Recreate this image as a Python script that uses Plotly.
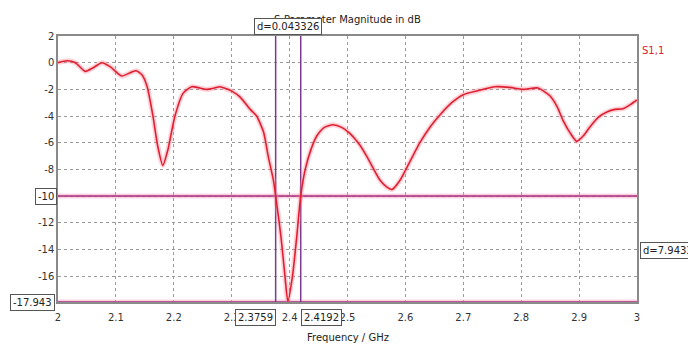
import plotly.graph_objects as go

# Data
freq = [2.0, 2.016, 2.03, 2.047, 2.06, 2.076, 2.09, 2.11, 2.125, 2.135, 2.145, 2.154,
        2.164, 2.172, 2.181, 2.19, 2.202, 2.216, 2.231, 2.245, 2.257, 2.27, 2.28, 2.29,
        2.301, 2.315, 2.332, 2.343, 2.355, 2.363, 2.372, 2.376, 2.385, 2.392, 2.397,
        2.405, 2.412, 2.4192, 2.427, 2.437, 2.447, 2.46, 2.475, 2.49, 2.504, 2.52, 2.533,
        2.556, 2.567, 2.577, 2.591, 2.608, 2.625, 2.643, 2.66, 2.68, 2.70, 2.725, 2.755,
        2.78, 2.803, 2.829, 2.85, 2.862, 2.872, 2.885, 2.896, 2.907, 2.919, 2.933, 2.948,
        2.962, 2.976, 2.99, 3.0]
s11 = [0.0, 0.15, 0.0, -0.65, -0.4, 0.0, -0.3, -1.0, -0.75, -0.6, -0.9, -1.8,
       -4.0, -6.2, -7.7, -6.5, -4.0, -2.3, -1.8, -1.9, -2.0, -1.9, -1.8, -1.95,
       -2.15, -2.6, -3.5, -4.0, -5.2, -7.0, -8.8, -10.0, -13.0, -16.0, -17.9,
       -16.0, -13.2, -10.0, -8.0, -6.5, -5.5, -4.85, -4.65, -4.85, -5.3, -6.1, -7.0,
       -8.8, -9.3, -9.5, -8.8, -7.4, -6.0, -4.8, -3.9, -3.0, -2.4, -2.1, -1.8,
       -1.85, -2.0, -1.9, -2.5, -3.3, -4.3, -5.3, -5.9, -5.5, -4.8, -4.1, -3.7,
       -3.5, -3.45, -3.1, -2.8]

marker_f = [2.3759, 2.4192]
marker_level = [-10, -17.943]
x_ticks = [2.0, 2.1, 2.2, 2.3, 2.4, 2.5, 2.6, 2.7, 2.8, 2.9, 3.0]
x_ticktext = ["2", "2.1", "2.2", "2.3", "2.4", "2.5", "2.6", "2.7", "2.8", "2.9", "3"]
y_ticks = [2, 0, -2, -4, -6, -8, -10, -12, -14, -16]
y_ticktext = ["2", "0", "-2", "-4", "-6", "-8", "", "-12", "-14", "-16"]

FONT = "DejaVu Sans"
MCOL = "#a0307a"

fig = go.Figure()

# horizontal marker lines with halo
for lv in marker_level:
    fig.add_trace(go.Scatter(x=[2.0, 3.0], y=[lv, lv], mode="lines",
                             line=dict(color="rgba(255,150,190,0.45)", width=5),
                             hoverinfo="skip", showlegend=False))
    fig.add_trace(go.Scatter(x=[2.0, 3.0], y=[lv, lv], mode="lines",
                             line=dict(color=MCOL, width=1.5),
                             hoverinfo="skip", showlegend=False))
# vertical marker lines
for mf in marker_f:
    fig.add_trace(go.Scatter(x=[mf, mf], y=[-17.943, 2], mode="lines",
                             line=dict(color="#7e3a8e", width=1.5),
                             hoverinfo="skip", showlegend=False))

# curve with glow
fig.add_trace(go.Scatter(x=freq, y=s11, mode="lines",
                         line=dict(color="rgba(255,120,140,0.35)", width=5, shape="spline", smoothing=0.6),
                         hoverinfo="skip", showlegend=False))
fig.add_trace(go.Scatter(x=freq, y=s11, mode="lines", name="S1,1",
                         line=dict(color="#dd2030", width=1.6, shape="spline", smoothing=0.6),
                         showlegend=False))

box = dict(bordercolor="#555555", borderwidth=1, bgcolor="white", borderpad=2,
           font=dict(family=FONT, size=10, color="#222222"))

annotations = [
    dict(text="S-Parameter Magnitude in dB", xref="paper", yref="paper", x=0.5, y=1.062,
         showarrow=False, yanchor="middle", font=dict(family=FONT, size=10, color="#222222")),
    dict(text="d=0.043326", xref="x", yref="paper", x=sum(marker_f) / 2, y=1.034,
         showarrow=False, yanchor="middle", **box),
    dict(text="S1,1", xref="paper", yref="paper", x=1.05, y=0.975, showarrow=False,
         font=dict(family=FONT, size=10, color="#dd2030")),
    dict(text="-10", xref="paper", yref="y", x=-0.002, y=marker_level[0], xanchor="right",
         showarrow=False, **box),
    dict(text="-17.943", xref="paper", yref="y", x=-0.005, y=marker_level[1], xanchor="right",
         showarrow=False, **box),
    dict(text="2.3759", xref="x", yref="paper", x=marker_f[0], y=-0.06, xanchor="right",
         yanchor="middle", showarrow=False, **box),
    dict(text="2.4192", xref="x", yref="paper", x=marker_f[1], y=-0.06, xanchor="left",
         yanchor="middle", showarrow=False, **box),
    dict(text="d=7.9433", xref="paper", yref="paper", x=1.005, y=0.195, xanchor="left",
         yanchor="middle", showarrow=False, **box),
    dict(text="Frequency / GHz", xref="paper", yref="paper", x=0.5, y=-0.135, yanchor="middle",
         showarrow=False, font=dict(family=FONT, size=10, color="#222222")),
]

fig.update_layout(
    width=688, height=347,
    margin=dict(l=58, r=51, t=36, b=45),
    paper_bgcolor="white", plot_bgcolor="white",
    font=dict(family=FONT, size=10, color="#333333"),
    annotations=annotations,
)
fig.update_xaxes(range=[2.0, 3.0], tickvals=x_ticks, ticktext=x_ticktext,
                 showgrid=True, gridcolor="#9a9a9a", griddash="dot", gridwidth=1,
                 showline=True, linecolor="#8a8a8a", linewidth=1.5, mirror=True,
                 zeroline=False, ticks="", ticklabelstandoff=5,
                 tickfont=dict(family=FONT, size=10, color="#333333"))
fig.update_yaxes(range=[-17.943, 2.0], tickvals=y_ticks, ticktext=y_ticktext,
                 showgrid=True, gridcolor="#9a9a9a", griddash="dot", gridwidth=1,
                 showline=True, linecolor="#8a8a8a", linewidth=1.5, mirror=True,
                 zeroline=False, ticks="", tickfont=dict(family=FONT, size=10, color="#333333"))

fig.write_html("out.html")
